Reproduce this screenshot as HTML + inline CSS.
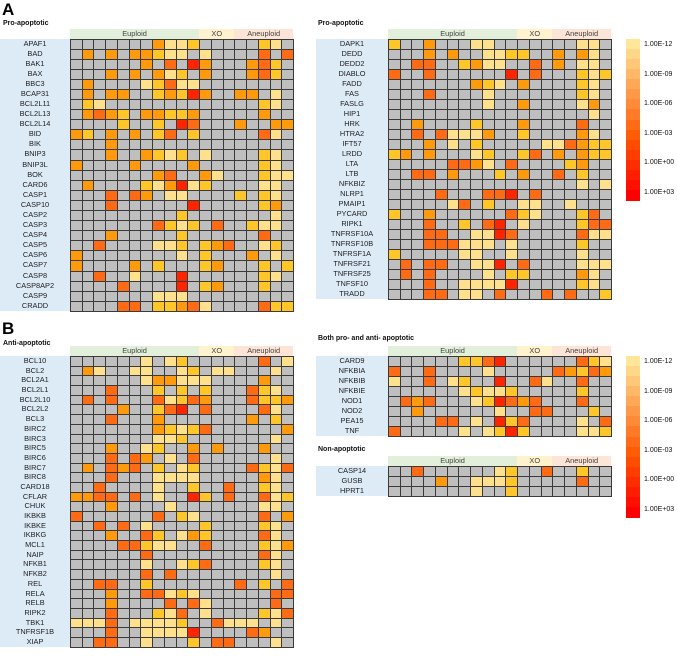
<!DOCTYPE html>
<html><head><meta charset="utf-8"><style>
body{margin:0;background:#fff;}
#root{position:relative;width:677px;height:657px;overflow:hidden;font-family:"Liberation Sans",sans-serif;}
.abs{position:absolute;}
.cell{position:absolute;box-sizing:border-box;border:1px solid #3a3a3a;}
.lbl{position:absolute;font-size:7.4px;color:#222;text-align:center;white-space:nowrap;}
.ttl{position:absolute;font-size:7px;font-weight:bold;color:#111;white-space:nowrap;}
.big{position:absolute;font-size:17px;font-weight:bold;color:#000;}
.hdr{position:absolute;font-size:7.4px;color:#444;text-align:center;line-height:10px;}
.leg{position:absolute;font-size:7px;color:#111;white-space:nowrap;}
</style></head><body>
<div id="root">
<div class="big" style="left:2px;top:0px;">A</div>
<div class="big" style="left:2px;top:319px;">B</div>
</div>
<script>
// category columns
const groups = ["Euploid","XO","Aneuploid"];
const groupCols = [11,3,5];
// level legend ticks
const legendTicks = ["1.00E-12","1.00E-09","1.00E-06","1.00E-03","1.00E+00","1.00E+03"];
// level codes: 0 = not detected (grey), 1..5 = light yellow -> red
const levelColors = ["#bfbfbf","#ffe08c","#ffc62a","#ff9a0c","#ff6a14","#ff2400"];

const proA_genes = ["APAF1","BAD","BAK1","BAX","BBC3","BCAP31","BCL2L11","BCL2L13","BCL2L14","BID","BIK","BNIP3","BNIP3L","BOK","CARD6","CASP1","CASP10","CASP2","CASP3","CASP4","CASP5","CASP6","CASP7","CASP8","CASP8AP2","CASP9","CRADD"];
const proA_vals = ["0000000311200000210","0303033211010000404","0000003040530003420","0003030312030003420","0300001241100000000","0303300232530033010","0210000000000000210","0343203322300000300","0000200205400030033","3203030240200000410","0003000000000000000","0003003212010000210","3000030000300000210","0000000340031000211","0300002135120000110","0004043011000020210","0004000000500000230","0000000002000000010","0000000421204002110","0003000002000000400","0040000112023400120","3000000001020003010","3000030200023000202","0040010005000000210","0000400005023000200","0000000111000000000","0000440223410000422"];

const proB_genes = ["DAPK1","DEDD","DEDD2","DIABLO","FADD","FAS","FASLG","HIP1","HRK","HTRA2","IFT57","LRDD","LTA","LTB","NFKBIZ","NLRP1","PMAIP1","PYCARD","RIPK1","TNFRSF10A","TNFRSF10B","TNFRSF1A","TNFRSF21","TNFRSF25","TNFSF10","TRADD"];
const proB_vals = ["2003000110000000110","0003030011220030310","0044002311004030110","4004000000504000212","0000000321030000210","0004000010000000210","0000000010030000130","0000000000000000010","0030000200030000400","0040411130020000310","0003010200000114322","2303000120024030322","0000044310400002300","0044030002030040200","0000000000000000101","0000400044504000000","0000014020011001000","2003000000421000240","0004002045010000244","0004400115400000411","0004441110100000200","2000001100100000100","0404400115040000111","0404000010220000310","0004001111500000210","0004401104000404002"];

const anti_genes = ["BCL10","BCL2","BCL2A1","BCL2L1","BCL2L10","BCL2L2","BCL3","BIRC2","BIRC3","BIRC5","BIRC6","BIRC7","BIRC8","CARD18","CFLAR","CHUK","IKBKB","IKBKE","IKBKG","MCL1","NAIP","NFKB1","NFKB2","REL","RELA","RELB","RIPK2","TBK1","TNFRSF1B","XIAP"];
const anti_vals = ["0000001012000000401","0310011001201100010","0000001331110000300","0004000202020004210","0404000412430004223","0000300245040000410","0004000300000003020","0000000321240000003","0000000112000000010","0003001200303000300","0004043010400000010","0304340201200004214","0004000111100000310","0040000100200400210","3344040100520400412","0003000010000000110","4000000402100000403","0040401000020000210","0003004201320000410","0000442110040000213","0000004000000000410","0000001001240000210","0000004040000000010","0044002000000040204","0003004412100000044","0003000040410000040","0004000214010000214","1114011112004111010","0004001111500004300","0044001000204400010"];

const both_genes = ["CARD9","NFKBIA","NFKBIB","NFKBIE","NOD1","NOD2","PEA15","TNF"];
const both_vals = ["0000002245000000421","4004000010000043243","1004012005004100400","0000001211200000200","0434000125434000400","0030000001004400020","0000440105240000104","4000001012520000112"];

const non_genes = ["CASP14","GUSB","HPRT1"];
const non_vals = ["0040000001200400200","0000300111200000400","0000000100200000000"];

const root = document.getElementById('root');
function mk(cls, css, text){
  const d=document.createElement('div'); d.className=cls; d.style.cssText=css;
  if(text!==undefined) d.textContent=text; root.appendChild(d); return d;
}
const colW = 11.74;
const hdrColors = ["#e2efda","#fff2cc","#fce4d6"];

function panel(key, title, titleX, titleY, bandX, x0, y0, rowH, genes, vals){
  const t = mk('ttl', `left:${titleX}px;top:${titleY}px;`, title);
  
  
  // header bands
  let c0=0;
  groups.forEach((g,i)=>{
    const h = mk('hdr', `left:${x0+c0*colW}px;top:${y0-10}px;width:${groupCols[i]*colW}px;height:10px;background:${hdrColors[i]};`, g);
    
    
    c0+=groupCols[i];
  });
  const band = mk('abs', `left:${bandX}px;top:${y0}px;width:${x0-bandX}px;height:${genes.length*rowH}px;background:#ddebf7;`);
  
  
  genes.forEach((g,r)=>{
    const y = y0 + r*rowH;
    const l = mk('lbl', `left:${bandX}px;width:${x0-bandX}px;top:${y}px;height:${rowH}px;line-height:${rowH}px;`, g);
    
    
    const row = vals[r];
    for(let c=0;c<row.length;c++){
      const v = +row[c];
      const cell = mk('cell', `left:${x0+c*colW}px;top:${y}px;width:${colW+1}px;height:${rowH+1}px;background:${levelColors[v]};`);
      
      
    }
  });
}
panel('pro-apoptotic-a','Pro-apoptotic',3,20,0,70,38.5,10.09,proA_genes,proA_vals);
panel('pro-apoptotic-b','Pro-apoptotic',318,20,316,388,39.3,10.0,proB_genes,proB_vals);
panel('anti-apoptotic','Anti-apoptotic',3,340,0,70,356,9.69,anti_genes,anti_vals);
panel('both-apoptotic','Both pro- and anti- apoptotic',318,335,316,388,355.7,10.0,both_genes,both_vals);
panel('non-apoptotic','Non-apoptotic',318,446,316,388,466,10.0,non_genes,non_vals);

// legends
const bands = 16;
function legend(key, top){
  const h = 161;
  for(let i=0;i<bands;i++){
    const f=i/(bands-1);
    const r=255, g=Math.round(230-230*f), b=Math.round(153*Math.max(0,1-f*1.6));
    const d = mk('abs', `left:626px;top:${top+i*h/bands}px;width:14px;height:${h/bands+0.5}px;background:rgb(${r},${g},${b});`);
    
    
  }
  legendTicks.forEach((t,i)=>{
    const l = mk('leg', `left:644px;top:${top+2+i*29.6}px;`, t);
    
    
  });
}
legend('legend-a',39);
legend('legend-b',356);
</script>
</body></html>
